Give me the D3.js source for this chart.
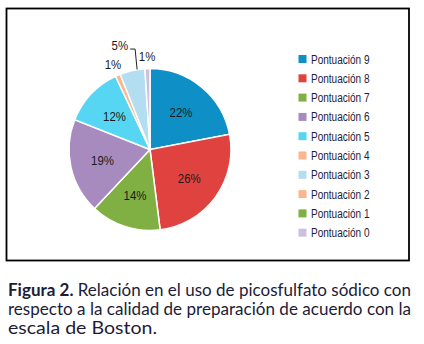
<!DOCTYPE html>
<html>
<head>
<meta charset="utf-8">
<script src="https://cdn.jsdelivr.net/npm/d3@7"></script>
<style>
  body { margin: 0; background: #fff; }
  svg { display: block; }
</style>
</head>
<body>
<svg id="chart" width="424" height="344"></svg>
<script>
// ---- data ----
const categories = ["Pontuación 9", "Pontuación 8", "Pontuación 7", "Pontuación 6", "Pontuación 5",
                    "Pontuación 4", "Pontuación 3", "Pontuación 2", "Pontuación 1", "Pontuación 0"];
const values = [22, 26, 14, 19, 12, 1, 5, 0, 0, 1];
const colors = ["#0E8FC6", "#E0433F", "#80B043", "#A78BBF", "#56D6F2",
                "#FDB58E", "#B3DDF0", "#FDB58E", "#80B043", "#CDBFE0"];
const captionBold = "Figura 2.";
const captionLines = [
  " Relación en el uso de picosfulfato sódico con",
  "respecto a la calidad de preparación de acuerdo con la",
  "escala de Boston."
];

const svg = d3.select("#chart");

// frame
svg.append("rect").attr("x", 6.5).attr("y", 8.5).attr("width", 402.5).attr("height", 252)
  .attr("fill", "#fff").attr("stroke", "#000").attr("stroke-width", 1.8);

// pie
const cx = 150, cy = 149.5, r = 81;
const g = svg.append("g").attr("transform", `translate(${cx},${cy})`);
const pie = d3.pie().sort(null).value(d => d.v);
const data = categories.map((c, i) => ({ c, v: values[i], col: colors[i] }));
const arcs = pie(data);
const arc = d3.arc().innerRadius(0).outerRadius(r);
const labelArc = d3.arc().innerRadius(r * 0.6).outerRadius(r * 0.6);

g.selectAll("path.slice").data(arcs.filter(a => a.data.v > 0)).join("path")
  .attr("class", "slice")
  .attr("d", arc)
  .attr("fill", d => d.data.col)
  .attr("stroke", "#fff").attr("stroke-width", 1.5);

const fontLbl = "'Liberation Sans', Arial, sans-serif";
function squeeze(sel, k) {
  sel.each(function () {
    const w = this.getComputedTextLength();
    d3.select(this).attr("textLength", w * k).attr("lengthAdjust", "spacingAndGlyphs");
  });
}

// inside labels
const inside = g.selectAll("text.in").data(arcs.filter(a => a.data.v >= 10)).join("text")
  .attr("class", "in")
  .attr("transform", d => `translate(${labelArc.centroid(d)})`)
  .attr("text-anchor", "middle").attr("dy", "0.36em")
  .attr("font-family", fontLbl).attr("font-size", 13).attr("fill", "#1a1a1a")
  .text(d => d.data.v + "%");
squeeze(inside, 0.88);

// outside labels for small slices
const smallArcs = arcs.filter(a => a.data.v > 0 && a.data.v < 10);
smallArcs.forEach(d => {
  const mid = (d.startAngle + d.endAngle) / 2;
  let t;
  if (d.data.v >= 3) {
    // leader line label
    const p0 = [Math.sin(mid + 0.06) * r, -Math.cos(mid + 0.06) * r];
    const p1 = [p0[0] - 2, -r * 1.24];
    const p2 = [p1[0] - 5, p1[1]];
    g.append("polyline").attr("points", [p0, p1, p2].map(p => p.join(",")).join(" "))
      .attr("fill", "none").attr("stroke", "#222").attr("stroke-width", 1);
    t = g.append("text").attr("x", p2[0] - 2).attr("y", p2[1] - 4).attr("dy", "0.36em")
      .attr("text-anchor", "end");
  } else {
    const rr = r * 1.15;
    t = g.append("text").attr("x", Math.sin(mid) * rr).attr("y", -Math.cos(mid) * rr)
      .attr("dy", "0.36em").attr("text-anchor", "middle");
  }
  t.attr("font-family", fontLbl).attr("font-size", 13).attr("fill", "#1a1a1a")
    .text(d.data.v + "%");
  squeeze(t, 0.88);
});

// legend
const lg = svg.append("g").attr("transform", "translate(298.5,55)");
const rowH = 19.3;
const item = lg.selectAll("g").data(data).join("g")
  .attr("transform", (d, i) => `translate(0,${i * rowH})`);
item.append("rect").attr("width", 8).attr("height", 8).attr("fill", d => d.col);
const lt = item.append("text").attr("x", 12.5).attr("y", 4).attr("dy", "0.36em")
  .attr("font-family", fontLbl).attr("font-size", 12.5).attr("fill", "#1c1c3c")
  .text(d => d.c);
lt.attr("textLength", 58.5).attr("lengthAdjust", "spacingAndGlyphs");

// caption
const capFont = "Lato, 'Open Sans', sans-serif";
const baselines = [296, 315, 333.5];
const widths = [403, 403, 149];
captionLines.forEach((line, i) => {
  const t = svg.append("text").attr("x", 8).attr("y", baselines[i])
    .attr("font-family", capFont).attr("font-size", 16.5).attr("fill", "#1c1c38");
  if (i === 0) t.append("tspan").attr("font-weight", "bold").text(captionBold);
  t.append("tspan").text(line);
  t.attr("textLength", widths[i]).attr("lengthAdjust", "spacingAndGlyphs");
});
</script>
</body>
</html>
